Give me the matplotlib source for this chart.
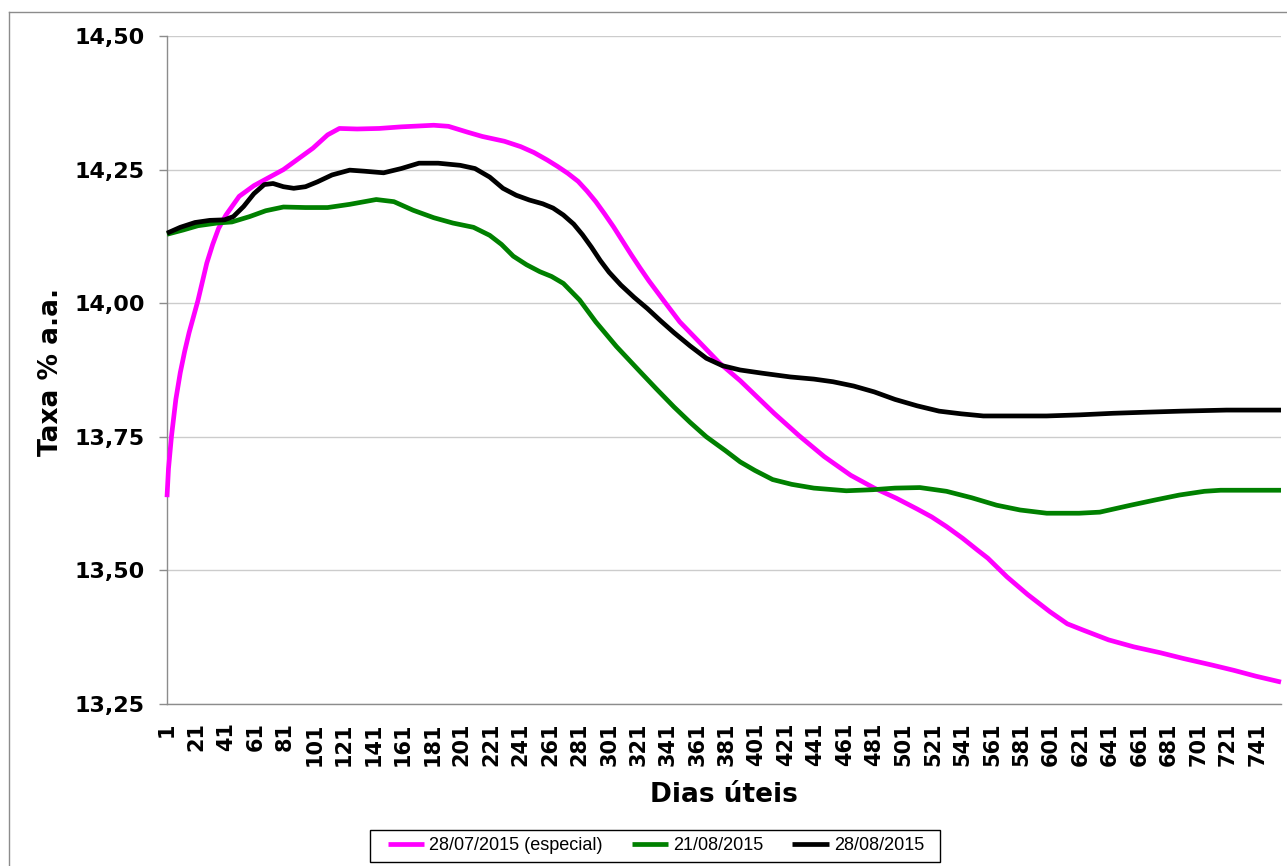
"""
Curva de juros: Taxa % a.a. por dias úteis (três datas de referência).
Uso:
    python plot.py
"""

import matplotlib
matplotlib.use("Agg")
import matplotlib.pyplot as plt
from matplotlib.lines import Line2D
from matplotlib.patches import Rectangle

LARGURA, ALTURA = 1287, 866

# Série 1: 28/07/2015 (especial)
M_DIAS = [1, 2, 4, 7, 10, 13, 16, 19, 22, 25, 28, 32, 36, 41, 50, 60, 70, 80, 90,
          100, 110, 118, 130, 145, 160, 182, 192, 205, 215, 230, 241, 250, 259,
          266, 273, 280, 286, 292, 298, 304, 310, 316, 322, 328, 338, 349, 362,
          376, 390, 413, 430, 447, 465, 481, 496, 510, 520, 530, 541, 551, 558,
          571, 585, 600, 612, 623, 640, 657, 675, 691, 710, 725, 740, 757]
M_TAXA = [13.637, 13.69, 13.75, 13.82, 13.87, 13.91, 13.945, 13.975, 14.005,
          14.04, 14.075, 14.11, 14.14, 14.165, 14.20, 14.22, 14.235, 14.25, 14.27,
          14.29, 14.315, 14.327, 14.326, 14.327, 14.330, 14.333, 14.331, 14.32,
          14.312, 14.303, 14.293, 14.282, 14.268, 14.256, 14.243, 14.228, 14.210,
          14.190, 14.167, 14.143, 14.117, 14.091, 14.066, 14.042, 14.005, 13.965,
          13.928, 13.888, 13.855, 13.794, 13.752, 13.713, 13.678, 13.654, 13.635,
          13.615, 13.600, 13.582, 13.56, 13.538, 13.523, 13.488, 13.455, 13.423,
          13.400, 13.388, 13.370, 13.357, 13.346, 13.335, 13.323, 13.313, 13.302,
          13.291]

# Série 2: 21/08/2015
G_DIAS = [1, 12, 22, 35, 45, 57, 68, 80, 95, 110, 125, 143, 155, 168, 182, 195,
          209, 220, 228, 236, 245, 254, 262, 270, 281, 292, 306, 322, 333, 345,
          356, 367, 380, 390, 400, 412, 425, 440, 462, 480, 495, 512, 530, 547,
          564, 580, 598, 620, 634, 655, 672, 688, 705, 716, 735, 757]
G_TAXA = [14.129, 14.137, 14.145, 14.150, 14.152, 14.162, 14.173, 14.180, 14.179,
          14.179, 14.185, 14.194, 14.19, 14.174, 14.16, 14.150, 14.142, 14.127,
          14.11, 14.088, 14.072, 14.059, 14.05, 14.037, 14.006, 13.965, 13.919,
          13.872, 13.84, 13.806, 13.777, 13.750, 13.724, 13.703, 13.687, 13.670,
          13.661, 13.654, 13.649, 13.651, 13.654, 13.655, 13.648, 13.636, 13.622,
          13.613, 13.607, 13.607, 13.609, 13.622, 13.632, 13.641, 13.648, 13.650,
          13.650, 13.650]

# Série 3: 28/08/2015
K_DIAS = [1, 10, 20, 30, 40, 46, 53, 60, 67, 73, 80, 87, 95, 103, 113, 125, 135,
          148, 160, 172, 185, 200, 210, 220, 229, 238, 247, 256, 263, 270, 277,
          283, 289, 295, 301, 309, 318, 327, 336, 345, 356, 367, 378, 390, 405,
          424, 440, 453, 467, 481, 495, 510, 525, 540, 555, 575, 598, 620, 643,
          665, 689, 720, 757]
K_TAXA = [14.131, 14.142, 14.151, 14.155, 14.156, 14.162, 14.181, 14.205, 14.222,
          14.224, 14.218, 14.215, 14.218, 14.227, 14.240, 14.249, 14.247, 14.244,
          14.252, 14.262, 14.262, 14.258, 14.252, 14.236, 14.215, 14.202, 14.193,
          14.186, 14.178, 14.165, 14.148, 14.128, 14.105, 14.080, 14.058, 14.034,
          14.011, 13.99, 13.967, 13.945, 13.92, 13.897, 13.883, 13.875, 13.869,
          13.862, 13.858, 13.853, 13.845, 13.834, 13.82, 13.808, 13.798, 13.793,
          13.789, 13.789, 13.789, 13.791, 13.794, 13.796, 13.798, 13.80, 13.80]

SERIES = ["28/07/2015 (especial)", "21/08/2015", "28/08/2015"]
CORES = ["#ff00ff", "#008000", "#000000"]

Y_TICKS = [13.25, 13.50, 13.75, 14.00, 14.25, 14.50]
X_TICKS = list(range(1, 742, 20))

CINZA = "#8c8c8c"
FONTE = "DejaVu Sans"


def px(x, y):
    """Converte pixels da imagem em coordenadas da figura."""
    return x / LARGURA, 1 - y / ALTURA


fig = plt.figure(figsize=(LARGURA / 100, ALTURA / 100), dpi=100)
ax = fig.add_axes([167 / LARGURA, 1 - 704 / ALTURA,
                   (1281 - 167) / LARGURA, (704 - 36) / ALTURA])

dados = [(M_DIAS, M_TAXA), (G_DIAS, G_TAXA), (K_DIAS, K_TAXA)]
for (dias, taxa), nome, cor in zip(dados, SERIES, CORES):
    ax.plot(dias, taxa, color=cor, lw=3.4, label=nome, clip_on=False,
            solid_joinstyle="round", solid_capstyle="butt", zorder=3)

ax.set_xlim(1, 757)
ax.set_ylim(13.25, 14.50)

ax.set_yticks(Y_TICKS)
ax.set_yticklabels([f"{v:.2f}".replace(".", ",") for v in Y_TICKS],
                   fontfamily=FONTE, fontweight="bold", fontsize=16)
ax.set_xticks(X_TICKS)
ax.set_xticklabels([str(v) for v in X_TICKS], rotation=90,
                   fontfamily=FONTE, fontweight="bold", fontsize=15)

ax.tick_params(axis="y", length=6, width=1, color=CINZA, pad=10)
ax.tick_params(axis="x", length=0, pad=13)

ax.grid(axis="y", color="#cccccc", lw=1)
ax.set_axisbelow(True)
for lado in ["top", "right"]:
    ax.spines[lado].set_visible(False)
for lado in ["left", "bottom"]:
    ax.spines[lado].set_color(CINZA)
    ax.spines[lado].set_linewidth(1)

# títulos dos eixos
fig.text(*px(51, 372), "Taxa % a.a.", rotation=90, ha="center", va="center",
         fontfamily=FONTE, fontweight="bold", fontsize=19)
fig.text(*px(724, 795), "Dias úteis", ha="center", va="center",
         fontfamily=FONTE, fontweight="bold", fontsize=19)

# moldura externa (só esquerda e topo aparecem)
fig.add_artist(Line2D([9 / LARGURA, 9 / LARGURA], [0, 1 - 12 / ALTURA],
                      transform=fig.transFigure, color=CINZA, lw=1))
fig.add_artist(Line2D([9 / LARGURA, 1], [1 - 12 / ALTURA, 1 - 12 / ALTURA],
                      transform=fig.transFigure, color=CINZA, lw=1))

# legenda
x0, y0 = px(370, 862)
x1, y1 = px(940, 830)
fig.add_artist(Rectangle((x0, y0), x1 - x0, y1 - y0, transform=fig.transFigure,
                         facecolor="white", edgecolor="black", lw=1))
leg = fig.legend(loc="center", bbox_to_anchor=px(656, 846), ncol=3,
                 frameon=False, prop={"family": "Liberation Sans", "size": 13},
                 handlelength=2.0, handletextpad=0.3, columnspacing=1.6)
for linha in leg.get_lines():
    linha.set_linewidth(3.4)

fig.savefig("out.png", dpi=100)
